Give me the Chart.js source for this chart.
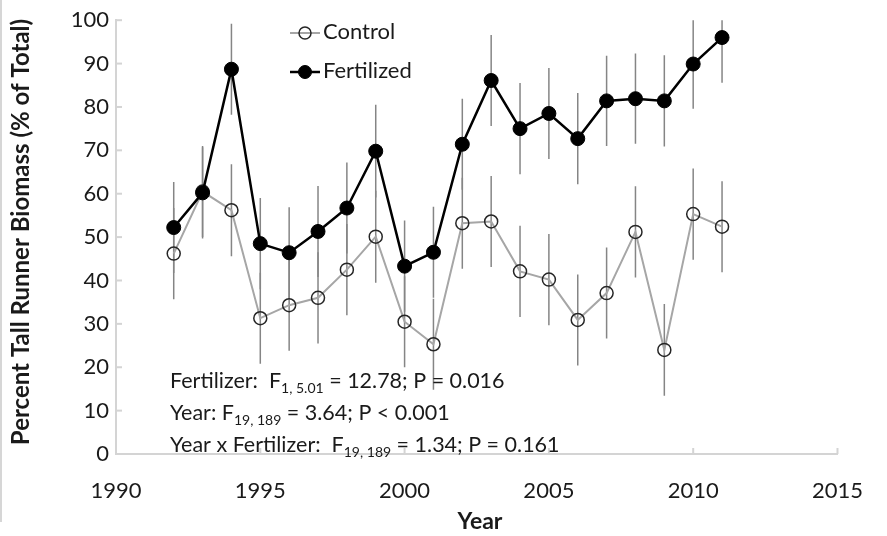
<!DOCTYPE html>
<html lang="en">
<head>
  <meta charset="UTF-8">
  <title>Tall Runner Biomass</title>
  <style>
    body { margin: 0; background: #fff; }
    #wrap { width: 887px; height: 536px; }
  </style>
</head>
<body>
  <div id="wrap"><canvas id="chart" width="887" height="536"></canvas></div>
  <script src="https://cdn.jsdelivr.net/npm/chart.js"></script>
  <script>
    // data
    const years = [1992, 1993, 1994, 1995, 1996, 1997, 1998, 1999, 2000, 2001,
                   2002, 2003, 2004, 2005, 2006, 2007, 2008, 2009, 2010, 2011];
    const control = [46.2, 60.5, 56.2, 31.3, 34.3, 36.0, 42.5, 50.1, 30.5, 25.3,
                     53.2, 53.6, 42.1, 40.2, 30.9, 37.1, 51.2, 24.0, 55.3, 52.4];
    const fertilized = [52.2, 60.2, 88.7, 48.5, 46.4, 51.3, 56.7, 69.8, 43.3, 46.5,
                        71.4, 86.1, 75.0, 78.5, 72.7, 81.4, 81.9, 81.4, 89.9, 96.0];
    const controlErr = [10.5, 10.5, 10.6, 10.5, 10.5, 10.5, 10.5, 10.6, 10.5, 10.5,
                        10.5, 10.5, 10.5, 10.5, 10.5, 10.5, 10.5, 10.6, 10.5, 10.5];
    const fertilizedErr = [10.5, 10.5, 10.5, 10.5, 10.5, 10.5, 10.5, 10.7, 10.5, 10.5,
                           10.5, 10.5, 10.5, 10.5, 10.5, 10.4, 10.4, 10.5, 10.3, 10.4];
    const seriesNames = ['Control', 'Fertilized'];
    const xTicks = [1990, 1995, 2000, 2005, 2010, 2015];
    const yTicks = [0, 10, 20, 30, 40, 50, 60, 70, 80, 90, 100];
    const xTitle = 'Year';
    const yTitle = 'Percent Tall Runner Biomass (% of Total)';

    // stats text: [before subscript, subscript, after]
    const statLines = [
      ['Fertilizer:  F', '1, 5.01', ' = 12.78; P = 0.016'],
      ['Year: F', '19, 189', ' = 3.64; P < 0.001'],
      ['Year x Fertilizer:  F', '19, 189', ' = 1.34; P = 0.161']
    ];

    const FONT = 'Lato, "Open Sans", sans-serif';
    const axisGray = '#d4d4d4';
    const textCol = '#1a1a1a';

    function pts(vals) {
      return years.map((y, i) => ({ x: y, y: vals[i] }));
    }

    // error bars, drawn under the markers
    const errorBars = {
      id: 'errorBars',
      beforeDatasetsDraw(chart) {
        const { ctx, chartArea, scales } = chart;
        const errs = [controlErr, fertilizedErr];
        const vals = [control, fertilized];
        ctx.save();
        ctx.beginPath();
        ctx.rect(chartArea.left, chartArea.top, chartArea.width, chartArea.height);
        ctx.clip();
        ctx.strokeStyle = '#858585';
        ctx.lineWidth = 1.5;
        for (let s = 0; s < 2; s++) {
          years.forEach((yr, i) => {
            const px = scales.x.getPixelForValue(yr);
            ctx.beginPath();
            ctx.moveTo(px, scales.y.getPixelForValue(vals[s][i] + errs[s][i]));
            ctx.lineTo(px, scales.y.getPixelForValue(vals[s][i] - errs[s][i]));
            ctx.stroke();
          });
        }
        ctx.restore();
      }
    };

    // inside tick marks, titles, legend, stats text, frame line
    const extras = {
      id: 'extras',
      afterDraw(chart) {
        const { ctx, chartArea, scales } = chart;
        ctx.save();
        ctx.strokeStyle = axisGray;
        ctx.lineWidth = 2;
        yTicks.forEach(v => {
          const py = scales.y.getPixelForValue(v);
          ctx.beginPath();
          ctx.moveTo(chartArea.left, py);
          ctx.lineTo(chartArea.left + 6, py);
          ctx.stroke();
        });
        xTicks.forEach(v => {
          const px = scales.x.getPixelForValue(v);
          ctx.beginPath();
          ctx.moveTo(px, chartArea.bottom);
          ctx.lineTo(px, chartArea.bottom - 6);
          ctx.stroke();
        });

        // left frame line of the figure
        ctx.strokeStyle = '#c8c8c8';
        ctx.lineWidth = 1.5;
        ctx.beginPath();
        ctx.moveTo(1, 0);
        ctx.lineTo(1, 522);
        ctx.stroke();

        // axis titles
        ctx.fillStyle = textCol;
        ctx.textAlign = 'center';
        ctx.textBaseline = 'middle';
        ctx.font = 'bold 23px ' + FONT;
        ctx.fillText(xTitle, 480, 522);
        ctx.save();
        ctx.font = 'bold 24px ' + FONT;
        ctx.translate(21, 232);
        ctx.rotate(-Math.PI / 2);
        ctx.fillText(yTitle, 0, 0);
        ctx.restore();

        // legend
        const ds = chart.data.datasets;
        const lx = 290, ly = [33, 72];
        ds.forEach((d, i) => {
          ctx.strokeStyle = d.borderColor;
          ctx.lineWidth = d.borderWidth;
          ctx.beginPath();
          ctx.moveTo(lx, ly[i]);
          ctx.lineTo(lx + 30, ly[i]);
          ctx.stroke();
          ctx.beginPath();
          ctx.arc(lx + 15, ly[i], i === 0 ? 6 : 6.5, 0, Math.PI * 2);
          ctx.fillStyle = d.pointBackgroundColor;
          ctx.fill();
          ctx.strokeStyle = d.pointBorderColor;
          ctx.lineWidth = d.pointBorderWidth;
          ctx.stroke();
          ctx.fillStyle = textCol;
          ctx.font = '22px ' + FONT;
          ctx.textBaseline = 'middle';
          ctx.textAlign = 'left';
          ctx.fillText(seriesNames[i], lx + 33, ly[i] - 1);
        });

        // stats text with subscripts
        ctx.fillStyle = textCol;
        ctx.textBaseline = 'alphabetic';
        ctx.textAlign = 'left';
        const sy = [388, 420, 452];
        statLines.forEach((parts, i) => {
          let x = 170;
          ctx.font = '21.5px ' + FONT;
          ctx.fillText(parts[0], x, sy[i]);
          x += ctx.measureText(parts[0]).width;
          ctx.font = '14px ' + FONT;
          ctx.fillText(parts[1], x, sy[i] + 5);
          x += ctx.measureText(parts[1]).width;
          ctx.font = '21.5px ' + FONT;
          ctx.fillText(parts[2], x, sy[i]);
        });
        ctx.restore();
      }
    };

    new Chart(document.getElementById('chart'), {
      type: 'scatter',
      data: {
        datasets: [
          {
            label: seriesNames[0],
            data: pts(control),
            showLine: true,
            borderColor: '#a6a6a6',
            borderWidth: 2,
            pointRadius: 6.5,
            pointHoverRadius: 6.5,
            pointBackgroundColor: 'rgba(255,255,255,0)',
            pointBorderColor: '#262626',
            pointBorderWidth: 1.5,
            order: 2
          },
          {
            label: seriesNames[1],
            data: pts(fertilized),
            showLine: true,
            borderColor: '#000000',
            borderWidth: 2.5,
            pointRadius: 7,
            pointHoverRadius: 7,
            pointBackgroundColor: '#000000',
            pointBorderColor: '#000000',
            pointBorderWidth: 1,
            order: 1
          }
        ]
      },
      options: {
        responsive: false,
        devicePixelRatio: 1,
        animation: false,
        layout: { padding: { top: 18, right: 41, bottom: 0, left: 62 } },
        plugins: {
          legend: { display: false },
          tooltip: { enabled: false }
        },
        scales: {
          x: {
            type: 'linear',
            min: 1990,
            max: 2015,
            afterBuildTicks: s => { s.ticks = xTicks.map(v => ({ value: v })); },
            afterFit: s => { s.height = 82; },
            ticks: {
              font: { family: FONT, size: 22 },
              color: textCol,
              padding: 24,
              maxRotation: 0,
              autoSkip: false,
              callback: v => String(v)
            },
            grid: { display: false, drawTicks: false },
            border: { display: true, color: axisGray, width: 2 },
            title: { display: false }
          },
          y: {
            min: 0,
            max: 100,
            afterBuildTicks: s => { s.ticks = yTicks.map(v => ({ value: v })); },
            afterFit: s => { s.width = 54; },
            ticks: {
              font: { family: FONT, size: 22 },
              color: textCol,
              padding: 7
            },
            grid: { display: false, drawTicks: false },
            border: { display: true, color: axisGray, width: 2 },
            title: { display: false }
          }
        }
      },
      plugins: [errorBars, extras]
    });
  </script>
</body>
</html>
